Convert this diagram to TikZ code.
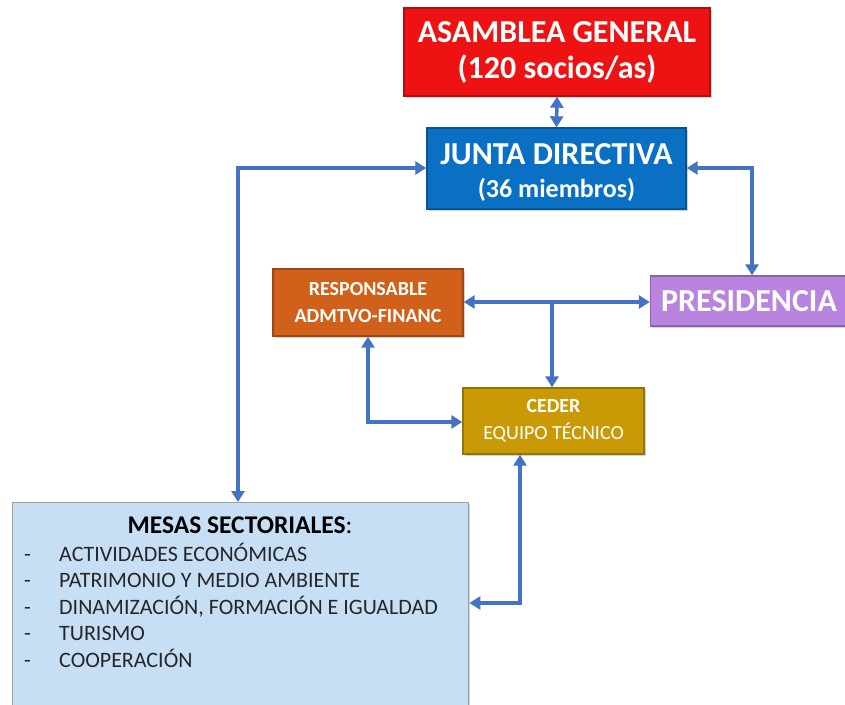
\documentclass[tikz,border=0pt]{standalone}
\usepackage{fontspec}
\setmainfont{Carlito}
\usetikzlibrary{arrows.meta,shadows}
\definecolor{cRed}{RGB}{238,18,18}
\definecolor{cBlue}{RGB}{10,112,196}
\definecolor{cPurple}{RGB}{184,132,224}
\definecolor{cOrange}{RGB}{208,96,26}
\definecolor{cGold}{RGB}{202,154,6}
\definecolor{cLight}{RGB}{199,223,245}
\definecolor{cArrow}{RGB}{68,114,196}
\definecolor{cText}{RGB}{38,38,38}
\tikzset{
  box/.style={draw=#1!75!black, line width=1.4pt, fill=#1, inner sep=0pt, align=center, text=white,
    drop shadow={shadow xshift=1.5pt, shadow yshift=-1.5pt, opacity=0.35}},
  conn/.style={draw=cArrow, line width=3.5pt, {Triangle[length=11pt,width=13pt]}-{Triangle[length=11pt,width=13pt]}},
  conn1/.style={draw=cArrow, line width=3.5pt, -{Triangle[length=11pt,width=13pt]}},
}
\begin{document}
\begin{tikzpicture}[x=1pt,y=-1pt]
\useasboundingbox (0,0) rectangle (845,704);
\fill[white] (0,0) rectangle (845,704);

\node[box=cRed, minimum width=306pt, minimum height=88pt, font=\bfseries\fontsize{32}{36}\selectfont] (asam) at (557,52) {ASAMBLEA GENERAL\\(120 socios/as)};
\node[box=cBlue, minimum width=259pt, minimum height=81pt, font=\bfseries\fontsize{26}{33}\selectfont] (junta) at (556.5,168.5) {{\fontsize{32}{33}\selectfont\rule{0pt}{28pt}JUNTA DIRECTIVA}\\(36 miembros)};
\node[box=cPurple, minimum width=197pt, minimum height=50pt, font=\bfseries\fontsize{32}{34}\selectfont] (pres) at (749,301) {PRESIDENCIA};
\node[box=cOrange, minimum width=190pt, minimum height=67pt, font=\bfseries\fontsize{20}{27}\selectfont] (resp) at (368,302.5) {RESPONSABLE\\ADMTVO-FINANC};
\node[box=cGold, minimum width=181pt, minimum height=66pt, font=\fontsize{20}{27}\selectfont] (ceder) at (553.5,421) {\bfseries CEDER\\EQUIPO TÉCNICO};
\node[box=cLight, draw=gray!75, minimum width=456pt, minimum height=212pt, anchor=north west] (mesas) at (12,502) {};

\node[text=black, font=\bfseries\fontsize{25.5}{28}\selectfont, anchor=base, inner sep=0pt] (mt) at (240,533) {MESAS SECTORIALES\textmd{:}};
\foreach \t [count=\i] in {ACTIVIDADES ECONÓMICAS, PATRIMONIO Y MEDIO AMBIENTE, {DINAMIZACIÓN, FORMACIÓN E IGUALDAD}, TURISMO, COOPERACIÓN}{
  \node[text=cText, font=\fontsize{22}{24}\selectfont, anchor=base west, inner sep=0pt] (d\i) at (24,561+26.5*\i-26.5) {-};
  \node[text=cText, font=\fontsize{22}{24}\selectfont, anchor=base west, inner sep=0pt] (m\i) at (59,561+26.5*\i-26.5) {\t};
}

% connectors
\draw[conn] (asam.south) -- (junta.north);
\coordinate (jl) at (238,168);
\coordinate (jr) at (752,168);
\draw[conn] (junta.west |- jl) -- (jl) -- (jl |- mesas.north);
\draw[conn] (junta.east |- jr) -- (jr) -- (jr |- pres.north);
\coordinate (hj) at (552,302);
\draw[conn] (resp.east |- hj) -- (pres.west |- hj);
\draw[conn1] (hj) -- (hj |- ceder.north);
\coordinate (rc) at (368,422);
\draw[conn] (resp.south) -- (rc) -- (ceder.west |- rc);
\coordinate (cm) at (520,603);
\draw[conn] (cm |- ceder.south) -- (cm) -- (mesas.east |- cm);
\end{tikzpicture}
\end{document}
